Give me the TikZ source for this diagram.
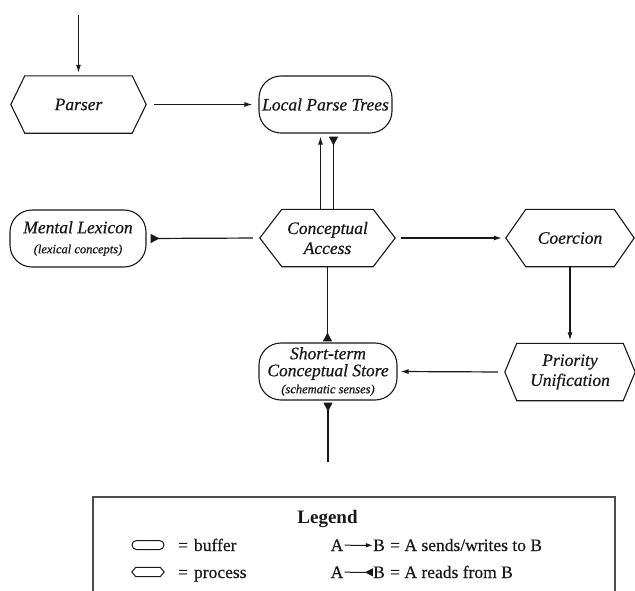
\documentclass[tikz,border=0pt]{standalone}
\usepackage{fontspec}
\setmainfont{Liberation Serif}[ItalicFeatures={FakeBold=0.6}, UprightFeatures={FakeBold=0.4}]
\usetikzlibrary{arrows.meta}
\definecolor{ink}{gray}{0.1}
\definecolor{boxline}{gray}{0.3}
\newcommand\hexdraw[2]{\draw[shapeline] (#1.west) -- ([xshift=#2]#1.north west) -- ([xshift=-#2]#1.north east) -- (#1.east) -- ([xshift=-#2]#1.south east) -- ([xshift=#2]#1.south west) -- cycle;}
\newcommand\smallit{\fontsize{12.5}{14}\selectfont\itshape}
\begin{document}
\begin{tikzpicture}[x=1pt,y=-1pt,
  shapeline/.style={draw=ink, line width=1.1pt},
  lbl/.style={font=\fontsize{17.5}{20}\selectfont\itshape, text=ink, align=center, inner sep=0pt},
  bufbox/.style={lbl, shapeline, rectangle, rounded corners=22pt, minimum height=57pt},
  procbox/.style={lbl, rectangle, minimum height=57pt},
  conn/.style={draw=ink, line width=1.2pt},
  sends/.style={conn, -{Latex[length=8pt,width=5pt]}},
  reads/.style={conn, -{Triangle[reversed,length=9pt,width=9pt]}},
  legtxt/.style={font=\fontsize{17.5}{20}\selectfont, text=ink, inner sep=0pt}
]
\useasboundingbox (0,0) rectangle (635,590);
\fill[white] (0,0) rectangle (635,590);

% nodes
\node[procbox, minimum width=135pt] (parser) at (78.5,104.5) {Parser};
\node[bufbox, minimum width=133pt] (lpt) at (325.5,104.5) {Local Parse Trees};
\node[bufbox, minimum width=136pt] (ml) at (78,238.5) {Mental Lexicon\\{\smallit (lexical concepts)}};
\node[procbox, minimum width=135pt] (ca) at (327.5,238) {Conceptual\\Access};
\node[procbox, minimum width=128pt] (co) at (570,238) {Coercion};
\node[bufbox, minimum width=138pt, font=\fontsize{17.5}{17}\selectfont\itshape] (st) at (328,371.5) {Short-term\\Conceptual Store\\{\smallit (schematic senses)}};
\node[procbox, minimum width=130pt] (pu) at (570,372) {Priority\\Unification};

\hexdraw{parser}{14pt}
\hexdraw{ca}{22pt}
\hexdraw{co}{20pt}
\hexdraw{pu}{12pt}

% connectors
\coordinate (topin) at (78.5,15);
\coordinate (botin) at (328,462);
\draw[sends, shorten >=3pt] (topin) -- (parser.north);
\draw[sends, shorten <=8pt, shorten >=6pt] (parser.east) -- (lpt.west);
\draw[sends, shorten >=3pt] ([xshift=-7pt]ca.north) -- ([xshift=-7pt]ca.north |- lpt.south);
\draw[reads, shorten >=3pt] ([xshift=6pt]ca.north) -- ([xshift=6pt]ca.north |- lpt.south);
\draw[reads, shorten <=7pt, shorten >=4pt] (ca.west) -- (ml.east);
\draw[sends, shorten <=6pt, shorten >=4pt] (ca.east) -- (co.west);
\draw[reads, shorten >=1pt] (ca.south) -- (ca.south |- st.north);
\draw[sends, shorten >=3pt] (co.south) -- (pu.north);
\draw[sends, shorten <=7pt, shorten >=3pt] (pu.west) -- (st.east);
\draw[reads, shorten >=2pt] (botin) -- (st.south);

% legend
\draw[draw=boxline, line width=1.2pt] (93,592) -- (93,497) -- (615,497) -- (615,592);
\node[legtxt, font=\fontsize{19}{22}\selectfont\bfseries, anchor=base] (legtitle) at (327.5,523) {Legend};

\node[draw=ink, line width=1pt, rounded corners=4.5pt, minimum width=32pt, minimum height=9pt, inner sep=0pt] (symbuf) at (148,545) {};
\node[minimum width=32pt, minimum height=9pt, inner sep=0pt] (symproc) at (148,572) {};
\draw[draw=ink, line width=1pt] (symproc.west) -- ([xshift=4pt]symproc.north west) -- ([xshift=-4pt]symproc.north east) -- (symproc.east) -- ([xshift=-4pt]symproc.south east) -- ([xshift=4pt]symproc.south west) -- cycle;
\node[legtxt, anchor=base west] (tbuf) at (178,551) {=\hspace{6pt}buffer};
\node[legtxt, anchor=base west] (tproc) at (178,578) {=\hspace{6pt}process};

\node[legtxt, anchor=base] (a1) at (337,551) {A};
\node[legtxt, anchor=base] (b1) at (379,551) {B};
\node[legtxt, anchor=base west] (t1) at (390,551) {= A sends/writes to B};
\draw[conn, line width=1pt, -{Latex[length=7pt,width=4.5pt]}, shorten <=1pt] (a1.east) -- (b1.west);

\node[legtxt, anchor=base] (a2) at (337,578) {A};
\node[legtxt, anchor=base] (b2) at (379,578) {B};
\node[legtxt, anchor=base west] (t2) at (390,578) {= A reads from B};
\draw[conn, line width=1pt, -{Triangle[reversed,length=8pt,width=8pt]}, shorten <=1pt] (a2.east) -- (b2.west);
\end{tikzpicture}
\end{document}
